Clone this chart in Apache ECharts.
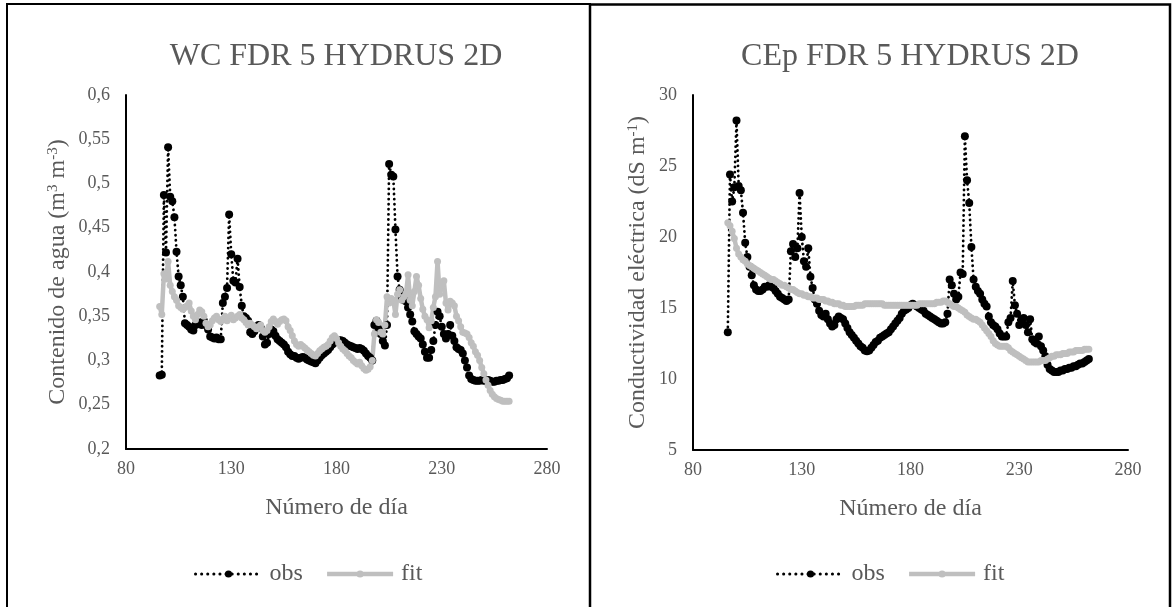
<!DOCTYPE html>
<html><head><meta charset="utf-8">
<script src="https://cdn.jsdelivr.net/npm/echarts@6/dist/echarts.min.js"></script>
<style>html,body{margin:0;padding:0;background:#fff}#c{width:1172px;height:607px}</style>
</head><body><div id="c"></div>
<script>
const days = [
96,97,98,99,100,101,102,103,104,105,
106,107,108,109,110,111,112,113,114,115,
116,117,118,119,120,121,122,123,124,125,
126,127,128,129,130,131,132,133,134,135,
136,137,138,139,140,141,142,143,144,145,
146,147,148,149,150,151,152,153,154,155,
156,157,158,159,160,161,162,163,164,165,
166,167,168,169,170,171,172,173,174,175,
176,177,178,179,180,181,182,183,184,185,
186,187,188,189,190,191,192,193,194,195,
196,197,198,199,200,201,202,203,204,205,
206,207,208,209,210,211,212,213,214,215,
216,217,218,219,220,221,222,223,224,225,
226,227,228,229,230,231,232,233,234,235,
236,237,238,239,240,241,242,243,244,245,
246,247,248,249,250,251,252,253,254,255,
256,257,258,259,260,261,262];

const wcObs = [
0.283,0.284,0.487,0.422,0.541,0.485,0.480,0.462,0.423,0.395,
0.385,0.372,0.342,0.340,0.338,0.335,0.334,0.340,0.341,0.343,
0.340,0.345,0.340,0.335,0.327,0.326,0.325,0.326,0.324,0.324,
0.365,0.372,0.382,0.465,0.420,0.390,0.388,0.415,0.383,0.362,
0.350,0.348,0.345,0.332,0.330,0.333,0.338,0.340,0.337,0.327,
0.318,0.320,0.330,0.335,0.333,0.328,0.324,0.322,0.320,0.318,
0.315,0.310,0.307,0.305,0.305,0.303,0.302,0.303,0.304,0.303,
0.301,0.300,0.299,0.298,0.297,0.300,0.303,0.306,0.308,0.310,
0.312,0.315,0.318,0.320,0.322,0.323,0.323,0.322,0.320,0.318,
0.317,0.316,0.315,0.314,0.313,0.314,0.313,0.311,0.308,0.305,
0.303,0.300,0.340,0.345,0.336,0.330,0.322,0.317,0.340,0.522,
0.510,0.508,0.448,0.395,0.380,0.372,0.368,0.367,0.360,0.352,
0.344,0.333,0.330,0.327,0.325,0.318,0.310,0.303,0.303,0.312,
0.322,0.340,0.355,0.350,0.338,0.330,0.325,0.330,0.340,0.328,
0.322,0.315,0.313,0.312,0.308,0.300,0.292,0.283,0.279,0.278,
0.277,0.277,0.277,0.278,0.277,0.277,0.278,0.277,0.276,0.276,
0.277,0.277,0.278,0.278,0.279,0.280,0.283];

const wcFit = [
0.361,0.352,0.398,0.392,0.412,0.385,0.378,0.372,0.368,0.362,
0.360,0.358,0.360,0.362,0.365,0.356,0.350,0.346,0.352,0.357,
0.355,0.350,0.342,0.338,0.340,0.345,0.348,0.350,0.346,0.344,
0.347,0.350,0.345,0.348,0.351,0.346,0.348,0.350,0.352,0.348,
0.346,0.343,0.340,0.342,0.340,0.338,0.336,0.338,0.340,0.334,
0.332,0.334,0.338,0.344,0.347,0.344,0.341,0.344,0.346,0.347,
0.345,0.338,0.334,0.328,0.322,0.318,0.316,0.318,0.316,0.314,
0.312,0.310,0.308,0.306,0.305,0.308,0.311,0.313,0.315,0.316,
0.318,0.322,0.326,0.328,0.325,0.320,0.316,0.313,0.311,0.308,
0.305,0.303,0.300,0.298,0.296,0.298,0.294,0.291,0.289,0.290,
0.293,0.300,0.330,0.346,0.343,0.332,0.330,0.340,0.372,0.365,
0.370,0.368,0.352,0.375,0.380,0.368,0.372,0.375,0.397,0.368,
0.362,0.378,0.395,0.385,0.370,0.358,0.350,0.346,0.337,0.345,
0.360,0.372,0.412,0.375,0.385,0.390,0.365,0.357,0.367,0.365,
0.362,0.350,0.345,0.338,0.332,0.331,0.330,0.326,0.320,0.316,
0.310,0.306,0.300,0.292,0.285,0.278,0.272,0.266,0.262,0.259,
0.257,0.256,0.255,0.254,0.254,0.254,0.254];

const ceObs = [
13.3,24.4,22.5,23.5,28.2,23.6,23.3,21.7,19.6,18.6,
17.9,17.3,16.6,16.3,16.2,16.2,16.3,16.5,16.5,16.6,
16.5,16.4,16.2,16.0,15.8,15.7,15.6,15.5,15.6,19.0,
19.5,18.6,19.2,23.1,20.0,18.3,17.9,19.2,17.2,16.4,
15.6,15.3,14.8,14.5,14.4,14.6,14.2,13.9,13.7,13.8,
14.2,14.4,14.3,14.2,13.9,13.6,13.3,13.1,12.9,12.7,
12.5,12.3,12.2,12.0,11.95,12.0,12.2,12.4,12.6,12.7,
12.9,13.0,13.1,13.2,13.3,13.5,13.7,13.9,14.1,14.3,
14.6,14.8,14.9,15.0,15.2,15.3,15.2,15.1,15.0,14.9,
14.8,14.6,14.5,14.4,14.3,14.2,14.1,14.0,13.9,13.9,
14.0,14.6,17.0,16.6,16.0,15.6,15.8,17.5,17.4,27.1,
24.0,22.4,19.3,17.0,16.5,16.2,16.0,15.6,15.3,15.1,
14.4,14.0,13.8,13.7,13.5,13.2,13.0,13.0,13.0,14.0,
14.3,16.9,15.2,14.6,13.8,14.2,14.3,13.8,13.3,14.2,
12.8,12.6,12.5,13.0,12.3,12.0,11.6,11.0,10.7,10.6,
10.5,10.5,10.5,10.6,10.6,10.7,10.7,10.8,10.8,10.9,
10.9,11.0,11.1,11.1,11.2,11.3,11.4];

const ceFit = [
21.0,20.8,20.4,19.9,19.2,18.8,18.6,18.4,18.3,18.1,
18.0,17.9,17.8,17.7,17.6,17.5,17.4,17.3,17.2,17.1,
17.0,17.0,16.9,16.8,16.7,16.6,16.6,16.5,16.4,16.3,
16.3,16.2,16.1,16.0,16.0,15.9,15.9,15.8,15.8,15.7,
15.7,15.7,15.6,15.6,15.6,15.5,15.5,15.4,15.4,15.3,
15.3,15.3,15.2,15.2,15.1,15.1,15.1,15.1,15.1,15.2,
15.2,15.2,15.2,15.3,15.3,15.3,15.3,15.3,15.3,15.3,
15.3,15.3,15.2,15.2,15.2,15.2,15.2,15.2,15.2,15.2,
15.2,15.2,15.2,15.2,15.2,15.2,15.2,15.2,15.3,15.3,
15.3,15.3,15.3,15.3,15.3,15.3,15.4,15.4,15.4,15.5,
15.5,15.4,15.3,15.2,15.1,15.1,15.0,14.9,14.8,14.7,
14.5,14.4,14.3,14.2,14.2,14.1,14.0,13.8,13.6,13.4,
13.2,13.0,12.7,12.5,12.4,12.3,12.3,12.3,12.3,12.2,
12.0,11.9,11.8,11.7,11.6,11.5,11.4,11.3,11.2,11.2,
11.2,11.2,11.2,11.2,11.3,11.3,11.3,11.4,11.5,11.6,
11.6,11.7,11.7,11.7,11.8,11.8,11.8,11.9,11.9,11.9,
12.0,12.0,12.0,12.0,12.1,12.1,12.1];

const xTicks = {min: 80, max: 280, interval: 50};
const wcTicks = {min: 0.2, max: 0.6, interval: 0.05};
const ceTicks = {min: 5, max: 30, interval: 5};
const titles = ['WC FDR 5 HYDRUS 2D', 'CEp FDR 5 HYDRUS 2D'];
const xName = 'Número de día';
const yNames = ['Contenido de agua (m{s|3} m{s|-3})', 'Conductividad eléctrica (dS m{s|-1})'];
const seriesNames = ['obs', 'fit'];

const FONT = "'Liberation Serif','Times New Roman',serif";
const GRAY = '#595959';
const chart = echarts.init(document.getElementById('c'));
function pairs(a){ return days.map((d, i) => [d, a[i]]); }
function comma(v){ return String(Math.round(v * 100) / 100).replace('.', ','); }

function xAxis(idx){
  return {gridIndex: idx, type: 'value', min: xTicks.min, max: xTicks.max, interval: xTicks.interval,
    name: xName, nameLocation: 'middle', nameGap: 47,
    nameTextStyle: {fontFamily: FONT, fontSize: 24, color: GRAY},
    axisLine: {lineStyle: {color: '#000', width: 2}}, axisTick: {show: false}, splitLine: {show: false},
    axisLabel: {fontFamily: FONT, fontSize: 18, color: GRAY, margin: 11}};
}
function yAxis(idx, t, gap){
  return {gridIndex: idx, type: 'value', min: t.min, max: t.max, interval: t.interval,
    name: yNames[idx], nameLocation: 'middle', nameGap: gap,
    nameTextStyle: {fontFamily: FONT, fontSize: 24, color: GRAY,
      rich: {s: {fontFamily: FONT, fontSize: 15, color: GRAY, verticalAlign: 'top', lineHeight: 15}}},
    axisLine: {show: true, lineStyle: {color: '#000', width: 2}}, axisTick: {show: false}, splitLine: {show: false},
    axisLabel: {fontFamily: FONT, fontSize: 18, color: GRAY, margin: 16, formatter: comma}};
}
function obsSeries(idx, arr){
  return {name: seriesNames[0], type: 'line', xAxisIndex: idx, yAxisIndex: idx, data: pairs(arr),
    symbol: 'circle', symbolSize: 8, itemStyle: {color: '#000'},
    lineStyle: {color: '#000', width: 2.8, type: [0.1, 5], cap: 'round'}, animation: false};
}
function fitSeries(idx, arr){
  return {name: seriesNames[1], type: 'line', xAxisIndex: idx, yAxisIndex: idx, data: pairs(arr),
    symbol: 'circle', symbolSize: 7, itemStyle: {color: '#BFBFBF'},
    lineStyle: {color: '#BFBFBF', width: 4.5}, animation: false};
}
function legend(left){
  return {left: left, top: 557, itemWidth: 66, itemHeight: 9, itemGap: 22,
    data: [
      {name: seriesNames[0], lineStyle: {color: '#000', width: 3, type: [0.1, 6], cap: 'round'}},
      {name: seriesNames[1], lineStyle: {color: '#BFBFBF', width: 4.5}}
    ],
    textStyle: {fontFamily: FONT, fontSize: 24, color: GRAY, padding: [0, 0, 0, 3]}};
}

chart.setOption({
  animation: false,
  backgroundColor: '#fff',
  title: [
    {text: titles[0], left: 336, top: 41, textAlign: 'center', padding: 0,
      textStyle: {fontFamily: FONT, fontSize: 32, fontWeight: 'normal', color: GRAY}},
    {text: titles[1], left: 910, top: 41, textAlign: 'center', padding: 0,
      textStyle: {fontFamily: FONT, fontSize: 32, fontWeight: 'normal', color: GRAY}}
  ],
  legend: [legend(189), legend(771)],
  grid: [
    {left: 126, top: 95, width: 421, height: 354},
    {left: 693, top: 95, width: 435, height: 355}
  ],
  xAxis: [xAxis(0), xAxis(1)],
  yAxis: [yAxis(0, wcTicks, 56), yAxis(1, ceTicks, 43)],
  series: [obsSeries(0, wcObs), fitSeries(0, wcFit), obsSeries(1, ceObs), fitSeries(1, ceFit)],
  graphic: [
    {type: 'rect', shape: {x: 7, y: 4, width: 583, height: 650}, style: {fill: 'none', stroke: '#000', lineWidth: 2}, silent: true},
    {type: 'rect', shape: {x: 590, y: 4.5, width: 580, height: 650}, style: {fill: 'none', stroke: '#000', lineWidth: 2.5}, silent: true}
  ]
});
</script></body></html>
